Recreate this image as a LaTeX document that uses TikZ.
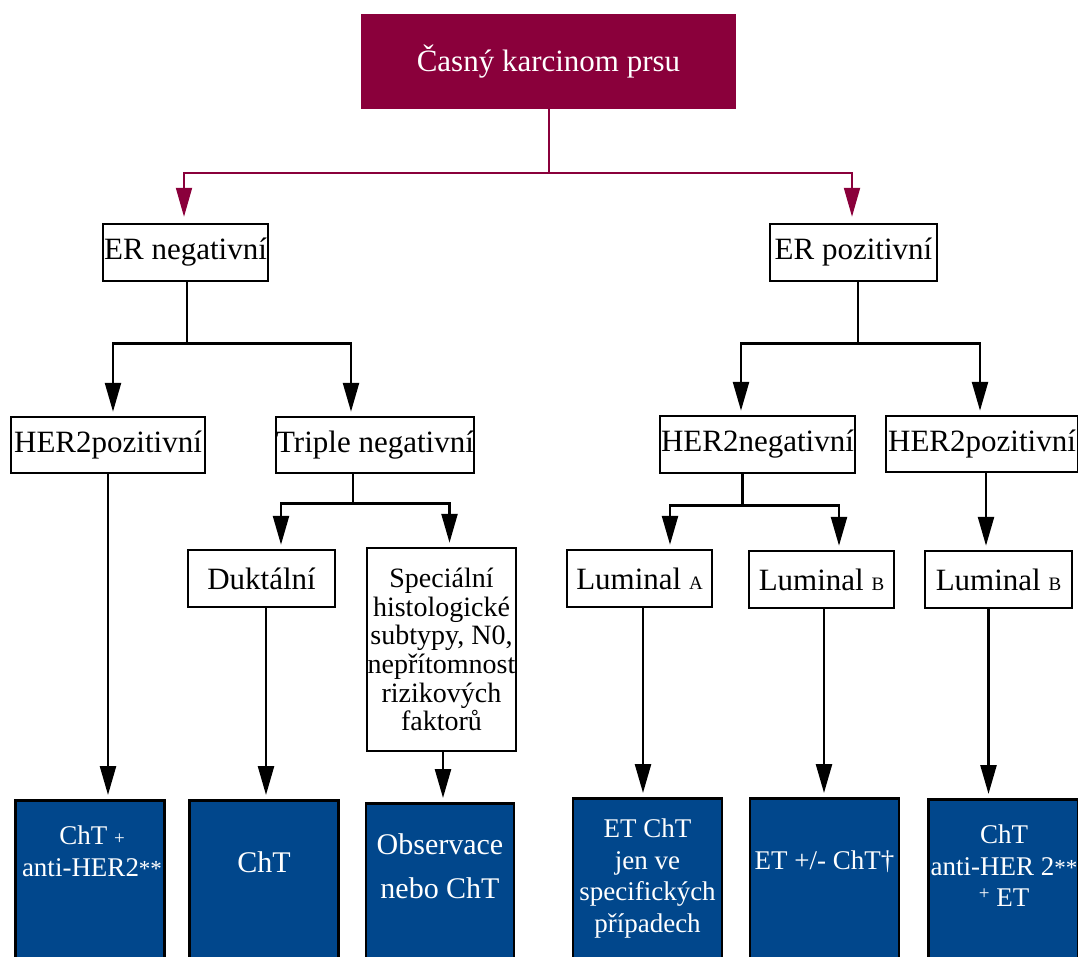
\documentclass[tikz,border=0pt]{standalone}
\usepackage{fontspec}
\setmainfont{Liberation Serif}
\usetikzlibrary{arrows.meta,positioning}
\definecolor{karmin}{RGB}{138,0,59}
\definecolor{modra}{RGB}{1,71,140}
\newcommand\pismenko[1]{{\fontsize{19}{20}\selectfont #1}}
\newcommand\hvezdy{{\fontsize{23}{20}\selectfont **}}
\begin{document}
\begin{tikzpicture}[x=1pt,y=-1pt,
  box/.style={draw,line width=2.5pt,fill=white,inner sep=0pt,align=center,font=\fontsize{31}{32}\selectfont},
  lek/.style={draw=black,line width=2.5pt,fill=modra,inner sep=0pt,minimum height=190pt,anchor=north},
  lektext/.style={text=white,align=center,inner sep=0pt,font=\fontsize{27}{31.5}\selectfont},
  spoj/.style={line width=2.5pt},
  sipka/.style={line width=2.5pt,-{Triangle[length=29pt,width=16pt]},shorten >=4pt},
  karminspoj/.style={karmin,line width=2pt},
  karminsipka/.style={karmin,line width=2pt,-{Triangle[length=29pt,width=16pt]},shorten >=6pt}]
\useasboundingbox (0,0) rectangle (1078,956);
\clip (0,0) rectangle (1078,956);
\node[box,fill=karmin,draw=karmin,text=white,minimum width=373pt,minimum height=93pt,font=\fontsize{31}{32}\selectfont] (karcinom) at (548.5,61.5) {Časný karcinom prsu};
\node[box,minimum width=165pt,minimum height=57pt] (ERneg) at (185.5,252.5) {ER negativní};
\node[box,minimum width=167pt,minimum height=57pt] (ERpoz) at (853.5,252.5) {ER pozitivní};
\node[box,minimum width=194pt,minimum height=56pt] (HERpozL) at (108,445) {HER2pozitivní};
\node[box,minimum width=194pt,minimum height=56pt] (triple) at (375,445) {Triple negativní};
\node[box,minimum width=195pt,minimum height=57pt] (HERneg) at (757.5,444.5) {HER2negativní};
\node[box,minimum width=192pt,minimum height=56pt] (HERpozR) at (982,444) {HER2pozitivní};
\node[box,minimum width=147pt,minimum height=57pt] (duktal) at (261.5,578.5) {Duktální};
\node[box,minimum width=149pt,minimum height=203pt,font=\fontsize{28}{28.6}\selectfont] (special) at (441.5,649.5) {Speciální\\histologické\\subtypy, N0,\\nepřítomnost\\rizikových\\faktorů};
\node[box,minimum width=145pt,minimum height=57pt] (lumA) at (639.5,578.5) {Luminal \pismenko{A}};
\node[box,minimum width=145pt,minimum height=57pt] (lumB) at (821.5,579.5) {Luminal \pismenko{B}};
\node[box,minimum width=147pt,minimum height=57pt] (lumB2) at (998.5,579.5) {Luminal \pismenko{B}};
\node[lek,minimum width=149pt] (lecba1) at (90,799) {};
\node[lek,minimum width=149pt] (lecba2) at (264,799) {};
\node[lek,minimum width=148pt] (lecba3) at (440,802) {};
\node[lek,minimum width=149pt] (lecba4) at (647.5,797) {};
\node[lek,minimum width=149pt] (lecba5) at (824.5,797) {};
\node[lek,minimum width=150pt] (lecba6) at (1003.5,798) {};
\node[lektext] (lecba1t) at (92,851) {ChT \pismenko{+}\\anti-HER2\hvezdy};
\node[lektext,font=\fontsize{30}{32}\selectfont] (lecba2t) at (264,862) {ChT};
\node[lektext,font=\fontsize{30}{32}\selectfont] (lecba3t) at (440,866) {Observace\\[12pt]nebo ChT};
\node[lektext] (lecba4t) at (647.5,878.5) {ET ChT\\jen ve\\specifických\\případech};
\node[lektext] (lecba5t) at (824.5,862) {ET +/- ChT†};
\node[lektext] (lecba6t) at (1004,866) {ChT\\anti-HER 2\hvezdy\\\raisebox{7pt}{\pismenko{+}} ET};
\draw[karminspoj] (karcinom.south) -- ++(0,64) coordinate (rozdel);
\draw[karminsipka] (rozdel) -| ([xshift=-1.5pt]ERneg.north);
\draw[karminsipka] (rozdel) -| ([xshift=-1.5pt]ERpoz.north);
\draw[spoj] ([xshift=1.5pt]ERneg.south) -- ++(0,61) coordinate (rozdelN);
\draw[sipka] (rozdelN) -| ([xshift=5pt]HERpozL.north);
\draw[sipka] (rozdelN) -| ([xshift=-24pt]triple.north);
\draw[spoj] ([xshift=-22pt]triple.south) -- ++(0,29) coordinate (rozdelT);
\draw[sipka] (rozdelT) -| ([xshift=19.5pt]duktal.north);
\draw[sipka] (rozdelT) -| ([xshift=8pt]special.north);
\draw[spoj] ([xshift=4.5pt]ERpoz.south) -- ++(0,61) coordinate (rozdelP);
\draw[sipka] (rozdelP) -| ([xshift=-16.5pt]HERneg.north);
\draw[sipka] (rozdelP) -| ([xshift=-2pt]HERpozR.north);
\draw[spoj] ([xshift=-15pt]HERneg.south) -- ++(0,31) coordinate (rozdelH);
\draw[sipka] (rozdelH) -| ([xshift=30.5pt]lumA.north);
\draw[sipka] (rozdelH) -| ([xshift=17.5pt]lumB.north);
\draw[sipka] ([xshift=4pt]HERpozR.south) -- ([xshift=4pt]HERpozR.south |- lumB2.north);
\draw[sipka] (HERpozL.south) -- (HERpozL.south |- lecba1.north);
\draw[sipka] ([xshift=4.5pt]duktal.south) -- ([xshift=4.5pt]duktal.south |- lecba2.north);
\draw[sipka] ([xshift=1.5pt]special.south) -- ([xshift=1.5pt]special.south |- lecba3.north);
\draw[sipka] ([xshift=3.5pt]lumA.south) -- ([xshift=3.5pt]lumA.south |- lecba4.north);
\draw[sipka] ([xshift=2.5pt]lumB.south) -- ([xshift=2.5pt]lumB.south |- lecba5.north);
\draw[sipka] ([xshift=-10pt]lumB2.south) -- ([xshift=-10pt]lumB2.south |- lecba6.north);
\end{tikzpicture}
\end{document}
